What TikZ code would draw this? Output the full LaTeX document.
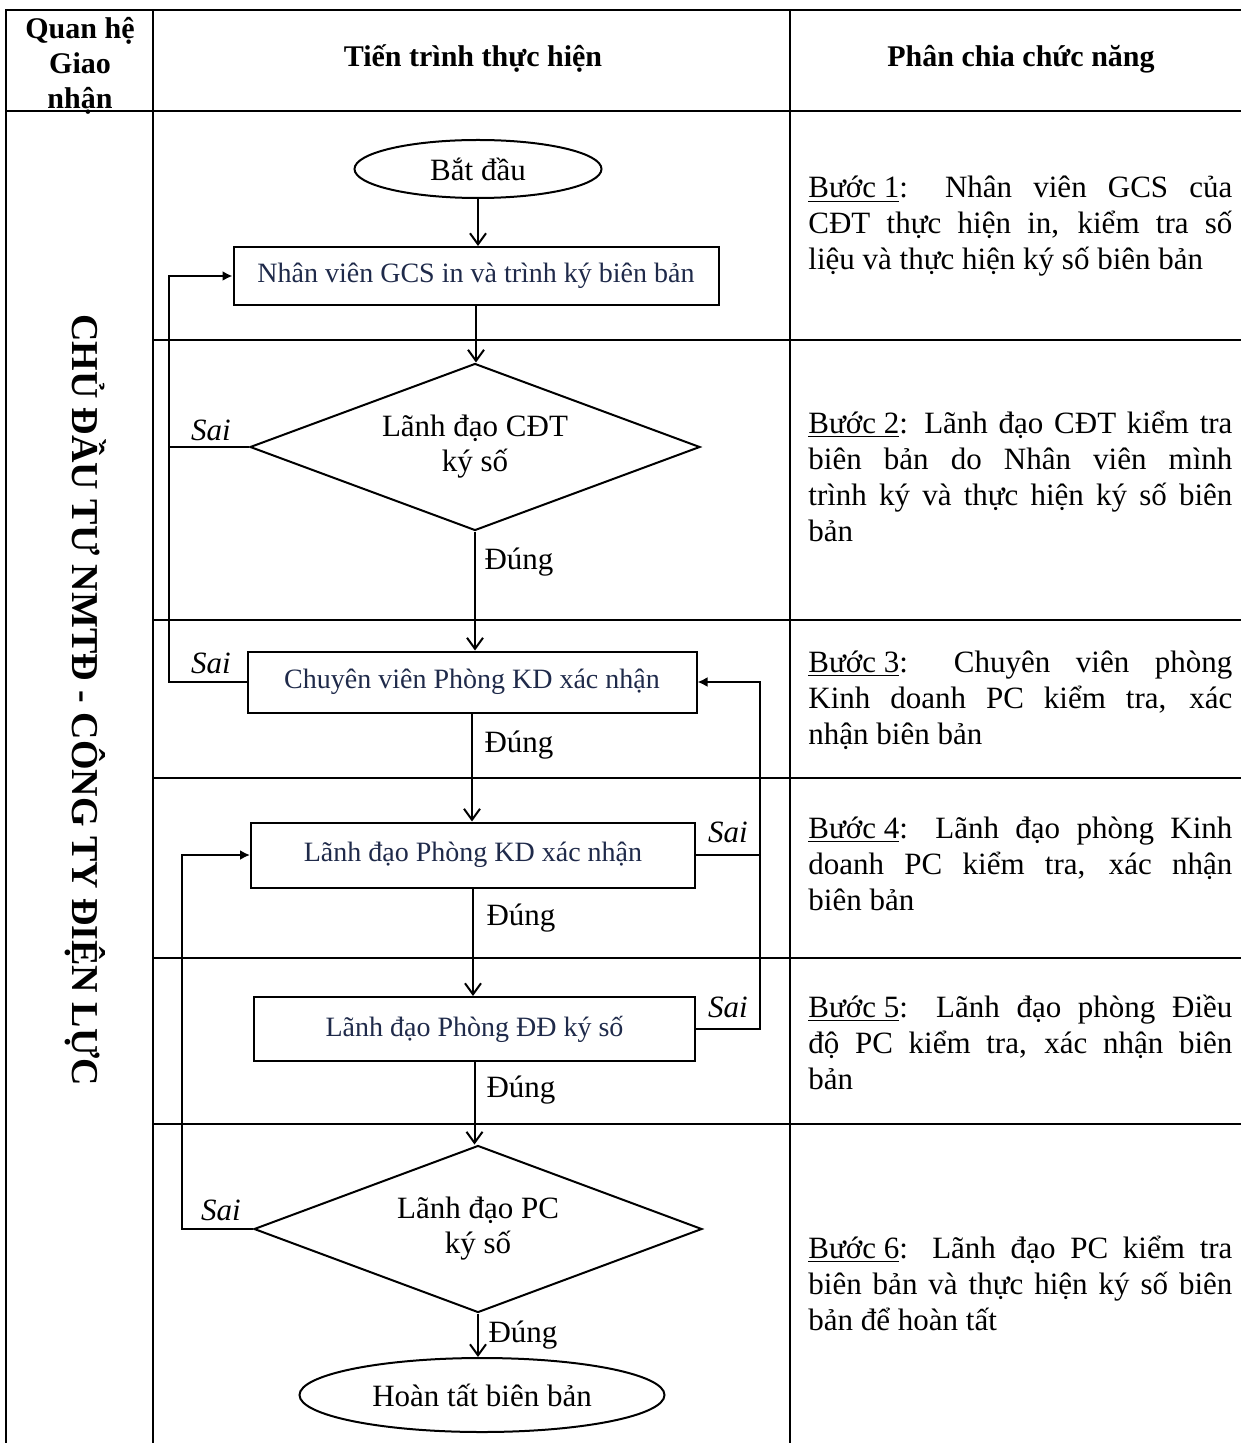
\documentclass[tikz,border=0pt]{standalone}
\usepackage{fontspec}
\setmainfont{Liberation Serif}
\usetikzlibrary{shapes.geometric,arrows.meta}
\definecolor{navytext}{HTML}{1F2A4A}
\newcommand{\flowfont}{\fontsize{15.5}{17.5}\selectfont}
\newcommand{\boxfont}{\fontsize{14}{16}\selectfont}
\newcommand{\stepfont}{\fontsize{15.5}{18}\selectfont\hyphenpenalty=10000\exhyphenpenalty=10000}
\newcommand{\headfont}{\fontsize{15}{17.5}\selectfont\bfseries}

\begin{document}
\begin{tikzpicture}[x=0.5pt,y=-0.5pt,
    grid/.style={line width=1.4pt},
    flow/.style={line width=1pt},
    down/.style={flow,-{Straight Barb[length=5.5pt,width=8pt]}},
    back/.style={flow,-{Latex[length=5pt,width=5pt]}},
    procbox/.style={draw,rectangle,line width=1pt,inner sep=0pt,font=\boxfont,text=navytext},
    decision/.style={draw,diamond,aspect=2.7,line width=1pt,inner sep=0pt,font=\flowfont,align=center},
    terminal/.style={draw,ellipse,line width=1pt,inner sep=0pt,font=\flowfont},
    lbl/.style={font=\flowfont,inner sep=0pt},
    steptext/.style={anchor=base west,inner sep=0pt,text width=212pt,align=justify,font=\stepfont}]

    \useasboundingbox (0,0) rectangle (1241,1443);

    % 1. Table frame
    \draw[grid] (6,1443) -- (6,10) -- (1241,10);
    \draw[grid] (6,111) -- (1241,111);
    \draw[grid] (153,10) -- (153,1443);
    \draw[grid] (790,10) -- (790,1443);
    \foreach \yrow in {340,620,778,958,1124}
        \draw[grid] (153,\yrow) -- (1241,\yrow);

    % 2. Header cells
    \node[font=\headfont,align=center,anchor=north,inner sep=0pt] (hqh) at (80,17) {Quan hệ\\Giao\\nhận};
    \node[font=\headfont,anchor=base] (htt) at (473,67) {Tiến trình thực hiện};
    \node[font=\headfont,anchor=base] (hpc) at (1021,67) {Phân chia chức năng};

    % 3. Left column (rotated)
    \node[font=\fontsize{19}{19}\selectfont\bfseries,rotate=-90] (side) at (86,700)
        {CHỦ ĐẦU TƯ NMTĐ - CÔNG TY ĐIỆN LỰC};

    % 4. Flow nodes
    \node[terminal,minimum width=123.5pt,minimum height=29pt] (start) at (478,169) {Bắt đầu};
    \node[procbox,minimum width=242.5pt,minimum height=29pt] (gcs) at (476,276)
        {Nhân viên GCS in và trình ký biên bản};
    \node[decision,minimum width=225pt,minimum height=83.5pt] (cdt) at (475,447)
        {Lãnh đạo CĐT\\ký số};
    \node[procbox,minimum width=224.5pt,minimum height=30.5pt] (cvkd) at (472,682)
        {Chuyên viên Phòng KD xác nhận};
    \node[procbox,minimum width=222pt,minimum height=32.5pt] (ldkd) at (473,855)
        {Lãnh đạo Phòng KD xác nhận};
    \node[procbox,minimum width=220.5pt,minimum height=32pt] (lddd) at (474.5,1029)
        {Lãnh đạo Phòng ĐĐ ký số};
    \node[decision,minimum width=224pt,minimum height=83.5pt] (ldpc) at (478,1229)
        {Lãnh đạo PC\\ký số};
    \node[terminal,minimum width=182.5pt,minimum height=37pt] (done) at (482,1395)
        {Hoàn tất biên bản};

    % 5. Loop columns
    \coordinate (L1) at (169,0);
    \coordinate (L2) at (182,0);
    \coordinate (R1) at (760,0);

    % 6. Main flow
    \draw[down] (start.south) -- (start.south |- gcs.north);
    \draw[down] (gcs.south) -- (gcs.south |- cdt.north);
    \draw[down] (cdt.south) -- (cdt.south |- cvkd.north);
    \draw[down] (cvkd.south) -- (cvkd.south |- ldkd.north);
    \draw[down] (ldkd.south) -- (ldkd.south |- lddd.north);
    \draw[down] (lddd.south) -- (lddd.south |- ldpc.north);
    \draw[down] (ldpc.south) -- (ldpc.south |- done.north);

    % 7. Return paths (Sai)
    \draw[back] (cvkd.west) -- (cvkd.west -| L1) |- (gcs.west);
    \draw[flow] (cdt.west) -- (cdt.west -| L1);
    \draw[back] (lddd.east) -- (lddd.east -| R1) |- (cvkd.east);
    \draw[flow] (ldkd.east) -- (ldkd.east -| R1);
    \draw[back] (ldpc.west) -- (ldpc.west -| L2) |- (ldkd.west);

    % 8. Branch labels
    \node[lbl,font=\flowfont\itshape] (s1) at (211,430) {Sai};
    \node[lbl,font=\flowfont\itshape] (s2) at (211,663) {Sai};
    \node[lbl,font=\flowfont\itshape] (s3) at (728,832) {Sai};
    \node[lbl,font=\flowfont\itshape] (s4) at (728,1007) {Sai};
    \node[lbl,font=\flowfont\itshape] (s5) at (221,1210) {Sai};
    \node[lbl] (d1) at (519,562) {Đúng};
    \node[lbl] (d2) at (519,745) {Đúng};
    \node[lbl] (d3) at (521,918) {Đúng};
    \node[lbl] (d4) at (521,1090) {Đúng};
    \node[lbl] (d5) at (523,1335) {Đúng};

    % 9. Step descriptions
    \node[steptext] (b1) at (808,198) {\underline{Bước 1}: Nhân viên GCS của\linebreak
        CĐT thực hiện in, kiểm tra số\linebreak liệu và thực hiện ký số biên bản};
    \node[steptext] (b2) at (808,433) {\underline{Bước 2}: Lãnh đạo CĐT kiểm tra\linebreak
        biên bản do Nhân viên mình\linebreak trình ký và thực hiện ký số biên\linebreak bản};
    \node[steptext] (b3) at (808,672) {\underline{Bước 3}: Chuyên viên phòng\linebreak
        Kinh doanh PC kiểm tra, xác\linebreak nhận biên bản};
    \node[steptext] (b4) at (808,838) {\underline{Bước 4}: Lãnh đạo phòng Kinh\linebreak
        doanh PC kiểm tra, xác nhận\linebreak biên bản};
    \node[steptext] (b5) at (808,1017) {\underline{Bước 5}: Lãnh đạo phòng Điều\linebreak
        độ PC kiểm tra, xác nhận biên\linebreak bản};
    \node[steptext] (b6) at (808,1258) {\underline{Bước 6}: Lãnh đạo PC kiểm tra\linebreak
        biên bản và thực hiện ký số biên\linebreak bản để hoàn tất};

\end{tikzpicture}
\end{document}
